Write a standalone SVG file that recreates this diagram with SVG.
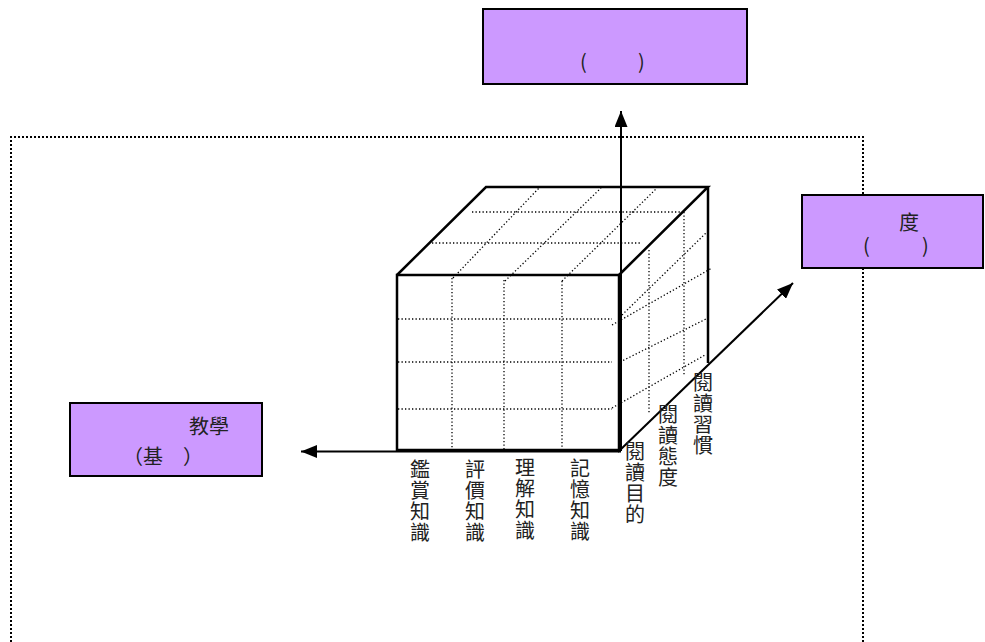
<svg xmlns="http://www.w3.org/2000/svg" width="985" height="642" viewBox="0 0 985 642">
<style>
.box{fill:#CC99FF;stroke:#000;stroke-width:2}
.t{font-family:"Noto Sans CJK TC","Noto Sans CJK SC",sans-serif;font-size:20px;fill:#222}
.vt{font-family:"Noto Sans CJK TC","Noto Sans CJK SC",sans-serif;font-size:20px;fill:#222;writing-mode:vertical-rl;letter-spacing:1px}
.edge{fill:none;stroke:#000;stroke-width:2.5;stroke-linejoin:miter}
.dot{fill:none;stroke:#000;stroke-width:1.3;stroke-dasharray:1.3 2.2}
.frame{fill:none;stroke:#000;stroke-width:2;stroke-dasharray:2 2}
.axis{fill:none;stroke:#000;stroke-width:2}
</style>
<defs>
<marker id="arr" viewBox="0 0 16 13" refX="16" refY="6.5" markerWidth="16" markerHeight="13" markerUnits="userSpaceOnUse" orient="auto">
<path d="M0,0 L16,6.5 L0,13 z" fill="#000"/>
</marker>
</defs>
<rect width="985" height="642" fill="#fff"/>
<path class="frame" d="M11,642 V137 H863 V642"/>
<g id="cube">
<path class="dot" d="M453,278 L539,188 M505,281 L601,188 M562,281 L657,188"/>
<path class="dot" d="M472,212 H683 M432,243 H642"/>
<path class="dot" d="M452,278 V449 M504,280 V449 M562,281 V449"/>
<path class="dot" d="M398,319 H612 M398,362 H612 M398,409 H612"/>
<path class="dot" d="M649,250 V413 M684,212 V375"/>
<path class="dot" d="M622,315 L707,232 M612,325 L712,268 M620,362 L708,318 M612,408 L705,355"/>
<rect class="edge" x="397" y="275" width="222" height="175"/>
<path class="edge" d="M397,275 L486,187 H708 L619,275 M708,187 V363"/>
</g>
<g id="connectors">
<line class="axis" x1="621" y1="451" x2="621" y2="111" marker-end="url(#arr)"/>
<line class="axis" x1="621" y1="451.5" x2="301" y2="451.5" marker-end="url(#arr)"/>
<line class="axis" x1="618" y1="452" x2="793" y2="283" stroke-width="2.6" marker-end="url(#arr)"/>
</g>
<g id="node-top">
<rect class="box" x="483" y="9" width="264" height="75"/>
<text class="t" font-size="18"><tspan x="580" y="69">(</tspan><tspan x="638" y="69">)</tspan></text>
</g>
<g id="node-right">
<rect class="box" x="802" y="195" width="181" height="73"/>
<text class="t" x="899" y="230">度</text>
<text class="t"><tspan x="863" y="253">(</tspan><tspan x="922" y="253">)</tspan></text>
</g>
<g id="node-left">
<rect class="box" x="70" y="403" width="192" height="73"/>
<text class="t" x="189" y="434">教學</text>
<text class="t" x="123" y="464">（基　）</text>
</g>
<g id="labels">
<text class="vt" x="420" y="459">鑑賞知識</text>
<text class="vt" x="475" y="459">評價知識</text>
<text class="vt" x="525" y="457">理解知識</text>
<text class="vt" x="580" y="458">記憶知識</text>
<text class="vt" x="635" y="441">閱讀目的</text>
<text class="vt" x="668" y="404">閱讀態度</text>
<text class="vt" x="703" y="372">閱讀習慣</text>
</g>
</svg>
